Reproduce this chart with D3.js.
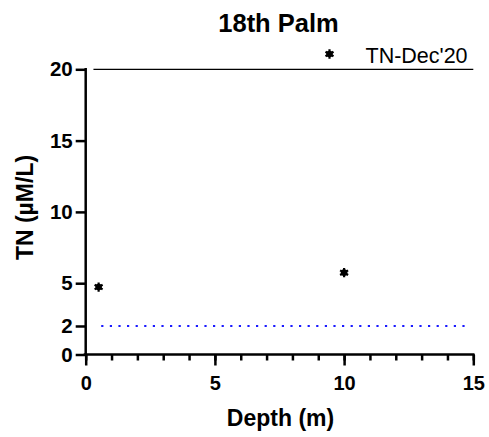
<!DOCTYPE html>
<html>
<head>
<meta charset="utf-8">
<script src="https://cdn.jsdelivr.net/npm/d3@7"></script>
<style>
  html, body { margin: 0; padding: 0; background: #fff; }
  svg { display: block; font-family: Arial, "Liberation Sans", sans-serif; }
</style>
</head>
<body>
<svg id="chart" width="489" height="437"></svg>
<script>
// TN measurements by depth
const depths = [0.5, 10];
const tnValues = [4.73, 5.74];
const seriesName = "TN-Dec'20";
const reference = 2;          // guideline level (µM/L)
const topLine = 20;           // upper frame line
const yTicks = [0, 2, 5, 10, 15, 20];
const xTicks = [0, 5, 10, 15];
const xMinorTicks = d3.range(0, 16, 1);

const FONT = "Arial, 'Liberation Sans', sans-serif";
const svg = d3.select("#chart");
const margin = { left: 85.7, right: 15.7, top: 69.3, bottom: 82.5 };
const W = 489, H = 437;

const x = d3.scaleLinear().domain([0, 15]).range([margin.left, W - margin.right]);
const y = d3.scaleLinear().domain([0, 20]).range([H - margin.bottom, margin.top]);

// Title
svg.append("text")
  .attr("x", 278.5).attr("y", 31.5)
  .attr("text-anchor", "middle")
  .attr("font-size", 25.5).attr("font-weight", "bold")
  .text("18th Palm");

// Upper frame line at 20
svg.append("line")
  .attr("x1", x(0.3)).attr("x2", x(15))
  .attr("y1", y(topLine)).attr("y2", y(topLine))
  .attr("stroke", "#000").attr("stroke-width", 1.2);

// Reference dotted line
svg.append("line")
  .attr("x1", x(0.6)).attr("x2", x(14.9))
  .attr("y1", y(reference)).attr("y2", y(reference))
  .attr("stroke", "#1a1aff").attr("stroke-width", 2.2)
  .attr("stroke-dasharray", "2.2,6.4");

// X axis: minor ticks
svg.append("g")
  .attr("transform", `translate(0,${y(0)})`)
  .call(d3.axisBottom(x).tickValues(xMinorTicks).tickSize(6).tickFormat(""))
  .call(g => g.select(".domain").remove())
  .call(g => g.selectAll("line").attr("stroke-width", 2.5));

// X axis: major ticks
const xAxis = svg.append("g")
  .attr("transform", `translate(0,${y(0)})`)
  .call(d3.axisBottom(x).tickValues(xTicks).tickSize(11).tickSizeOuter(0).tickPadding(10.5));
xAxis.select(".domain").attr("stroke-width", 2.5).attr("d", `M${x(0) - 2},0H${x(15) + 1.2}`);
xAxis.selectAll("line").attr("stroke-width", 2.5);
xAxis.selectAll("text").attr("font-size", 20).attr("font-weight", "bold")
  .attr("font-family", FONT).attr("fill", "#000");

// Y axis
const yAxis = svg.append("g")
  .attr("transform", `translate(${x(0)},0)`)
  .call(d3.axisLeft(y).tickValues(yTicks).tickSize(10).tickSizeOuter(0).tickPadding(3));
yAxis.select(".domain").attr("stroke-width", 2.5).attr("d", `M0,${y(20) - 1.2}V${y(0) + 1}`);
yAxis.selectAll("line").attr("stroke-width", 2.5);
yAxis.selectAll("text").attr("font-size", 20.5).attr("font-weight", "bold")
  .attr("font-family", FONT).attr("fill", "#000");

// Axis titles
svg.append("text")
  .attr("x", 280.5).attr("y", 426)
  .attr("text-anchor", "middle")
  .attr("font-size", 23).attr("font-weight", "bold")
  .text("Depth (m)");

svg.append("text")
  .attr("transform", `translate(33.3,207.5) rotate(-90)`)
  .attr("text-anchor", "middle")
  .attr("font-size", 23).attr("font-weight", "bold")
  .text("TN (µM/L)");

// Asterisk-like marker
function drawMarker(sel) {
  sel.append("circle").attr("r", 3.3).attr("fill", "#000");
  sel.append("path").attr("d", d3.symbol().type(d3.symbolAsterisk).size(60)())
    .attr("stroke", "#000").attr("stroke-width", 2.2).attr("fill", "none");
}

const pts = svg.append("g");
depths.forEach((d, i) => {
  const g = pts.append("g").attr("transform", `translate(${x(d)},${y(tnValues[i])})`);
  drawMarker(g);
});

// Legend
const lg = svg.append("g").attr("transform", "translate(329.5,54)");
drawMarker(lg);
svg.append("text")
  .attr("x", 365.5).attr("y", 63.3)
  .attr("font-size", 21.5)
  .text(seriesName);
</script>
</body>
</html>
